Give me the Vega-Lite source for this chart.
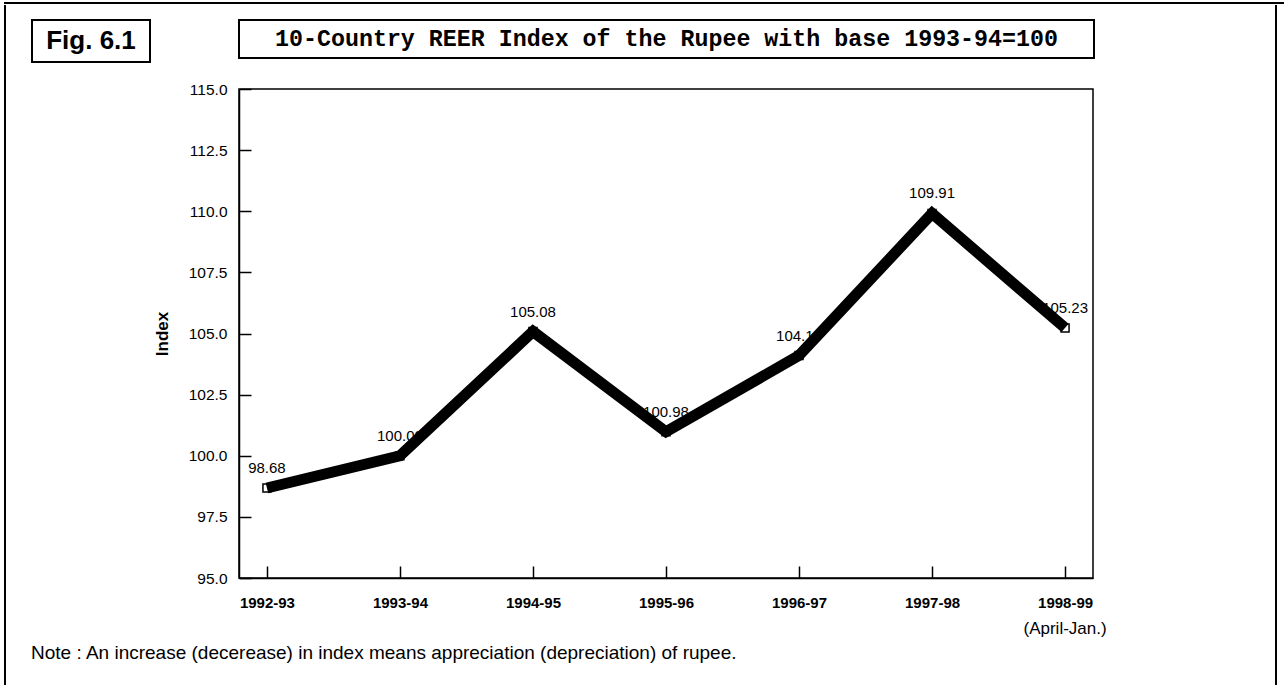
{
  "$schema": "https://vega.github.io/schema/vega-lite/v6.json",
  "padding": {"left": 4, "top": 2, "right": 0, "bottom": 0},
  "background": "white",
  "config": {
    "font": "Liberation Sans",
    "view": {"stroke": "black", "strokeWidth": 1.5},
    "axis": {"grid": false, "domainColor": "black", "domainWidth": 1.5, "tickColor": "black", "tickWidth": 1.5, "labelColor": "black", "titleColor": "black", "labelFont": "Liberation Sans", "titleFont": "Liberation Sans"}
  },
  "spacing": 0,
  "vconcat": [
    {"width": 1278, "height": 0.01, "view": {"stroke": "black", "strokeWidth": 2}, "data": {"values": []}, "mark": "point"},
    {
      "spacing": 24,
      "hconcat": [
        {"width": 0.01, "height": 680, "view": {"stroke": "black", "strokeWidth": 2}, "data": {"values": []}, "mark": "point"},
        {
          "spacing": 167,
          "hconcat": [
            {
              "spacing": 12,
              "vconcat": [
                {"width": 0.01, "height": 0.01, "view": {"stroke": null}, "data": {"values": []}, "mark": "point"},
                {
                  "title": {"text": "Note : An increase (decerease) in index means appreciation (depreciation) of rupee.", "orient": "bottom", "anchor": "start", "fontSize": 19, "fontWeight": "normal", "color": "black", "font": "Liberation Sans", "offset": 6},
                  "spacing": 1,
                  "hconcat": [
                    {
                      "width": 118, "height": 42,
                      "view": {"stroke": "black", "strokeWidth": 2},
                      "data": {"values": [{"label": "Fig. 6.1"}]},
                      "mark": {"type": "text", "fontSize": 26, "fontWeight": "bold", "color": "black", "align": "center", "baseline": "middle"},
                      "encoding": {"text": {"field": "label", "type": "nominal"}}
                    },
                    {
                      "spacing": 22,
                      "vconcat": [
                        {
                          "width": 855, "height": 38,
                          "view": {"stroke": "black", "strokeWidth": 2},
                          "data": {"values": [{"label": "10-Country REER Index of the Rupee with base 1993-94=100"}]},
                          "mark": {"type": "text", "font": "Liberation Mono", "fontSize": 23.3, "fontWeight": "bold", "color": "black", "align": "center", "baseline": "middle"},
                          "encoding": {"text": {"field": "label", "type": "nominal"}}
                        },
                        {
                          "width": 854, "height": 489,
                          "data": {"values": [
                            {"period": "1992-93", "reer": 98.68, "sub": ""},
                            {"period": "1993-94", "reer": 100.00, "sub": ""},
                            {"period": "1994-95", "reer": 105.08, "sub": ""},
                            {"period": "1995-96", "reer": 100.98, "sub": ""},
                            {"period": "1996-97", "reer": 104.10, "sub": ""},
                            {"period": "1997-98", "reer": 109.91, "sub": ""},
                            {"period": "1998-99", "reer": 105.23, "sub": "(April-Jan.)"}
                          ]},
                          "encoding": {
                            "x": {"field": "period", "type": "ordinal", "scale": {"type": "point", "padding": 0.21},
                                  "axis": {"title": null, "labelAngle": 0, "labelFontSize": 15, "labelFontWeight": "bold", "tickSize": -12, "labelPadding": 29}},
                            "y": {"field": "reer", "type": "quantitative", "scale": {"domain": [95, 115], "nice": false, "zero": false},
                                  "axis": {"title": "Index", "values": [95, 97.5, 100, 102.5, 105, 107.5, 110, 112.5, 115], "format": ".1f", "labelFontSize": 15.5, "tickSize": -12, "labelPadding": 24, "titleFontSize": 17, "titleFontWeight": "bold", "titlePadding": 17}}
                          },
                          "layer": [
                            {"mark": {"type": "point", "shape": "square", "size": 64, "filled": true, "fill": "white", "stroke": "black", "strokeWidth": 1.5, "opacity": 1}},
                            {"mark": {"type": "text", "dy": -20, "fontSize": 15, "color": "black"},
                             "encoding": {"text": {"field": "reer", "type": "quantitative", "format": ".2f"}}},
                            {"mark": {"type": "line", "color": "black", "strokeWidth": 11}},
                            {"mark": {"type": "text", "fontSize": 17, "dy": 51, "color": "black", "baseline": "middle"},
                             "encoding": {"y": {"datum": 95, "type": "quantitative"}, "text": {"field": "sub", "type": "nominal"}}}
                          ]
                        }
                      ]
                    }
                  ]
                }
              ]
            },
            {"width": 0.01, "height": 680, "view": {"stroke": "black", "strokeWidth": 2}, "data": {"values": []}, "mark": "point"}
          ]
        }
      ]
    }
  ]
}
